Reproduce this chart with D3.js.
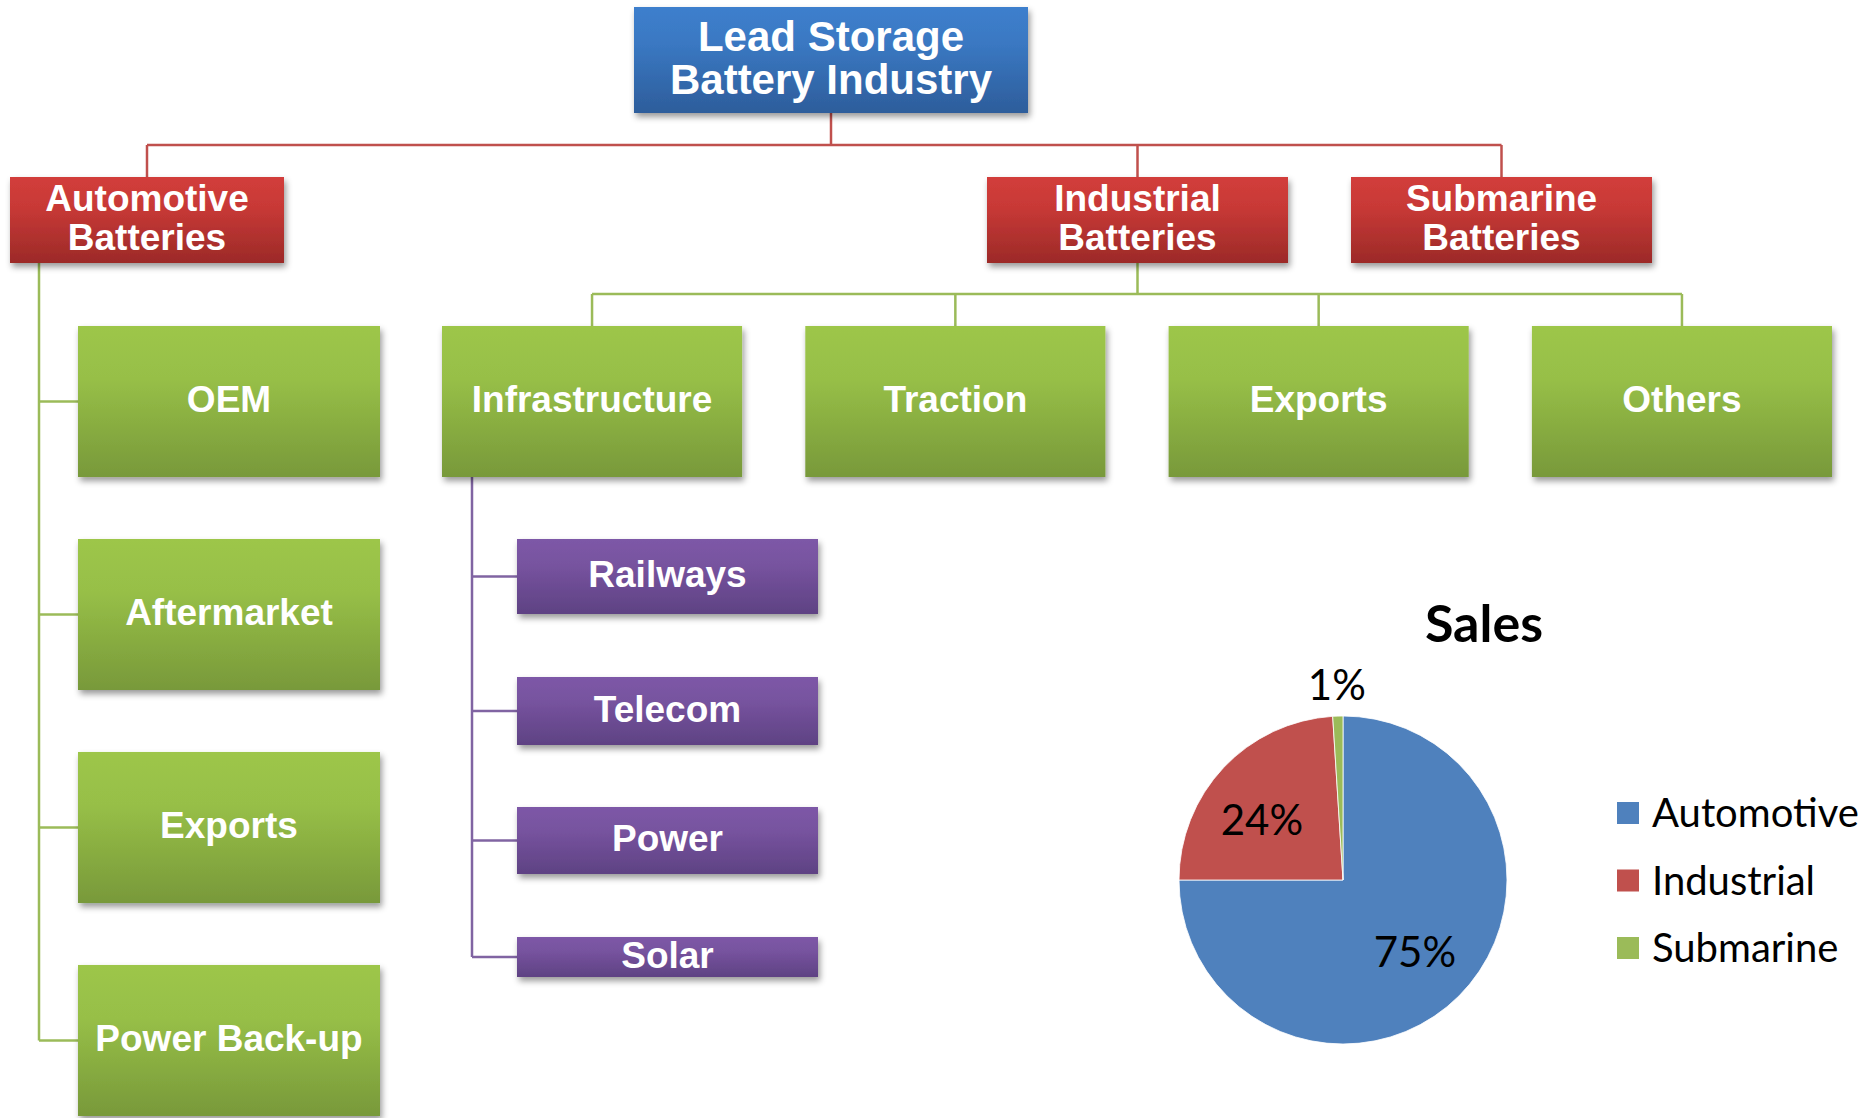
<!DOCTYPE html>
<html>
<head>
<meta charset="utf-8">
<script src="https://cdn.jsdelivr.net/npm/d3@7"></script>
<style>
  html, body { margin: 0; padding: 0; background: #fff; }
  svg { display: block; }
</style>
</head>
<body>
<div id="chart"></div>
<script>
// Configuration
const WIDTH = 1862;
const HEIGHT = 1118;

// Chart data
const rootLabel = ["Lead Storage", "Battery Industry"];
const segments = [["Automotive", "Batteries"], ["Industrial", "Batteries"], ["Submarine", "Batteries"]];
const automotiveChannels = ["OEM", "Aftermarket", "Exports", "Power Back-up"];
const industrialSegments = ["Infrastructure", "Traction", "Exports", "Others"];
const infrastructureUses = ["Railways", "Telecom", "Power", "Solar"];
const salesCategories = ["Automotive", "Industrial", "Submarine"];
const salesShares = [75, 24, 1];

// Layout (boxes are placed by hand like in the slide)
const rootBox = { x: 634, y: 7, w: 394, h: 106 };
const segmentBoxes = [{ x: 10, w: 274 }, { x: 987, w: 301 }, { x: 1351, w: 301 }];
const SEG_Y = 177, SEG_H = 86;
const RED_BUS = 145, GREEN_BUS = 294;
const ROW2_Y = 326, ROW2_H = 151;
const AUTO_SPINE = 39;
const INFRA_SPINE = 472;
const subRows = [{ y: 539, h: 75 }, { y: 677, h: 68 }, { y: 807, h: 67 }, { y: 937, h: 40 }];
const SUB_X = 517, SUB_W = 301;

const nodeFont = "'Liberation Sans', Arial, Helvetica, sans-serif";
const chartFont = "Lato, 'Open Sans', sans-serif";

const svg = d3.select("#chart")
    .append("svg")
    .attr("width", WIDTH)
    .attr("height", HEIGHT);

const defs = svg.append("defs");

// gradients like the Office "subtle" fill
function addGradient(id, top, mid, bottom) {
    const g = defs.append("linearGradient")
        .attr("id", id)
        .attr("x1", 0).attr("y1", 0).attr("x2", 0).attr("y2", 1);
    g.append("stop").attr("offset", "0%").attr("stop-color", top);
    g.append("stop").attr("offset", "35%").attr("stop-color", mid);
    g.append("stop").attr("offset", "100%").attr("stop-color", bottom);
}
addGradient("gBlue", "#3D7FCD", "#3A78C2", "#2D5D9B");
addGradient("gRed", "#D23D3B", "#C83936", "#9C2A28");
addGradient("gGreen", "#9DC64A", "#97BF47", "#78993A");
addGradient("gPurple", "#7D58A7", "#77539F", "#5E4283");

const shadow = defs.append("filter")
    .attr("id", "shadow")
    .attr("x", "-10%").attr("y", "-10%")
    .attr("width", "130%").attr("height", "140%");
shadow.append("feDropShadow")
    .attr("dx", 2).attr("dy", 4)
    .attr("stdDeviation", 3)
    .attr("flood-color", "#000")
    .attr("flood-opacity", 0.4);

// Connectors first, so boxes sit on top
const lines = svg.append("g").attr("fill", "none").attr("stroke-width", 2.5);

function connector(points, color) {
    lines.append("path")
        .attr("d", d3.line()(points))
        .attr("stroke", color);
}

const rootCx = rootBox.x + rootBox.w / 2;
const segCx = segmentBoxes.map(b => b.x + b.w / 2);

// red: root -> segments
connector([[rootCx, rootBox.y + rootBox.h], [rootCx, RED_BUS]], "#C0504D");
connector([[segCx[0], RED_BUS], [segCx[2], RED_BUS]], "#C0504D");
segCx.forEach(cx => connector([[cx, RED_BUS], [cx, SEG_Y]], "#C0504D"));

// industrial columns
const xInd = d3.scaleBand()
    .domain(industrialSegments.map((d, i) => i))
    .range([442, 1832])
    .paddingInner(0.174)
    .paddingOuter(0);

connector([[segCx[1], SEG_Y + SEG_H], [segCx[1], GREEN_BUS]], "#9BBB59");
connector([[xInd(0) + xInd.bandwidth() / 2, GREEN_BUS], [xInd(3) + xInd.bandwidth() / 2, GREEN_BUS]], "#9BBB59");
industrialSegments.forEach((d, i) => {
    const cx = xInd(i) + xInd.bandwidth() / 2;
    connector([[cx, GREEN_BUS], [cx, ROW2_Y]], "#9BBB59");
});

// automotive rows
const yAuto = d3.scaleBand()
    .domain(automotiveChannels.map((d, i) => i))
    .range([ROW2_Y, 1116])
    .paddingInner(0.291)
    .paddingOuter(0);
const autoMid = i => yAuto(i) + yAuto.bandwidth() / 2;

connector([[AUTO_SPINE, SEG_Y + SEG_H], [AUTO_SPINE, autoMid(automotiveChannels.length - 1)]], "#9BBB59");
automotiveChannels.forEach((d, i) => connector([[AUTO_SPINE, autoMid(i)], [78, autoMid(i)]], "#9BBB59"));

// infrastructure uses
const subMid = i => subRows[i].y + subRows[i].h / 2;
connector([[INFRA_SPINE, ROW2_Y + ROW2_H], [INFRA_SPINE, subMid(subRows.length - 1)]], "#8064A2");
infrastructureUses.forEach((d, i) => connector([[INFRA_SPINE, subMid(i)], [SUB_X, subMid(i)]], "#8064A2"));

// Boxes
const boxes = svg.append("g");

function drawBox(x, y, w, h, label, fill, fontSize, lineGap) {
    const g = boxes.append("g");
    g.append("rect")
        .attr("x", x).attr("y", y)
        .attr("width", w).attr("height", h)
        .attr("fill", `url(#${fill})`)
        .attr("filter", "url(#shadow)");
    const parts = Array.isArray(label) ? label : [label];
    const cy = y + h / 2;
    const capHalf = fontSize * 0.29;
    const first = cy + capHalf - (parts.length - 1) * lineGap / 2;
    const t = g.append("text")
        .attr("text-anchor", "middle")
        .attr("font-family", nodeFont)
        .attr("font-weight", "bold")
        .attr("font-size", fontSize)
        .attr("fill", "#fff");
    parts.forEach((p, i) => {
        t.append("tspan")
            .attr("x", x + w / 2)
            .attr("y", first + i * lineGap)
            .text(p);
    });
}

drawBox(rootBox.x, rootBox.y, rootBox.w, rootBox.h, rootLabel, "gBlue", 42, 43);
segments.forEach((s, i) => drawBox(segmentBoxes[i].x, SEG_Y, segmentBoxes[i].w, SEG_H, s, "gRed", 37, 39));
automotiveChannels.forEach((d, i) => drawBox(78, yAuto(i), 302, yAuto.bandwidth(), d, "gGreen", 37, 0));
industrialSegments.forEach((d, i) => drawBox(xInd(i), ROW2_Y, xInd.bandwidth(), ROW2_H, d, "gGreen", 37, 0));
infrastructureUses.forEach((d, i) => drawBox(SUB_X, subRows[i].y, SUB_W, subRows[i].h, d, "gPurple", 37, 0));

// Sales pie
const PIE_CX = 1343, PIE_CY = 880, PIE_R = 164;
const pieColors = d3.scaleOrdinal()
    .domain(salesCategories)
    .range(["#4F81BD", "#C0504D", "#9BBB59"]);

const salesData = salesCategories.map((c, i) => ({ name: c, value: salesShares[i] }));
const arcs = d3.pie().sort(null).value(d => d.value)(salesData);
const arc = d3.arc().innerRadius(0).outerRadius(PIE_R);
const labelArc = d3.arc().innerRadius(PIE_R * 0.62).outerRadius(PIE_R * 0.62);
const outerArc = d3.arc().innerRadius(PIE_R + 31).outerRadius(PIE_R + 31);

const pie = svg.append("g").attr("transform", `translate(${PIE_CX},${PIE_CY})`);
pie.selectAll("path.slice")
    .data(arcs)
    .join("path")
    .attr("class", "slice")
    .attr("d", arc)
    .attr("fill", d => pieColors(d.data.name))
    .attr("stroke", "#fff")
    .attr("stroke-width", 0.8);

// best-fit labels: the small slice goes outside, the 24% sits a bit lower-left
pie.selectAll("text.pct")
    .data(arcs)
    .join("text")
    .attr("class", "pct")
    .attr("transform", d => {
        const [cx, cy] = (d.data.value < 5 ? outerArc : labelArc).centroid(d);
        return d.data.value === 24 ? `translate(${cx - 7},${cy + 10})` : `translate(${cx},${cy})`;
    })
    .attr("text-anchor", "middle")
    .attr("dy", "0.35em")
    .attr("font-family", chartFont)
    .attr("font-size", 42)
    .attr("fill", "#000")
    .text(d => d.data.value + "%");

svg.append("text")
    .attr("x", 1484)
    .attr("y", 642)
    .attr("text-anchor", "middle")
    .attr("font-family", chartFont)
    .attr("font-weight", "bold")
    .attr("font-size", 52)
    .attr("fill", "#000")
    .text("Sales");

// Legend
const yLegend = d3.scalePoint()
    .domain(salesCategories)
    .range([813, 948]);

const legend = svg.append("g");
legend.selectAll("rect")
    .data(salesCategories)
    .join("rect")
    .attr("x", 1617)
    .attr("y", d => yLegend(d) - 11)
    .attr("width", 22)
    .attr("height", 22)
    .attr("fill", d => pieColors(d));
legend.selectAll("text")
    .data(salesCategories)
    .join("text")
    .attr("x", 1652)
    .attr("y", d => yLegend(d) + 14)
    .attr("font-family", chartFont)
    .attr("font-size", 40)
    .attr("fill", "#000")
    .text(d => d);
</script>
</body>
</html>
